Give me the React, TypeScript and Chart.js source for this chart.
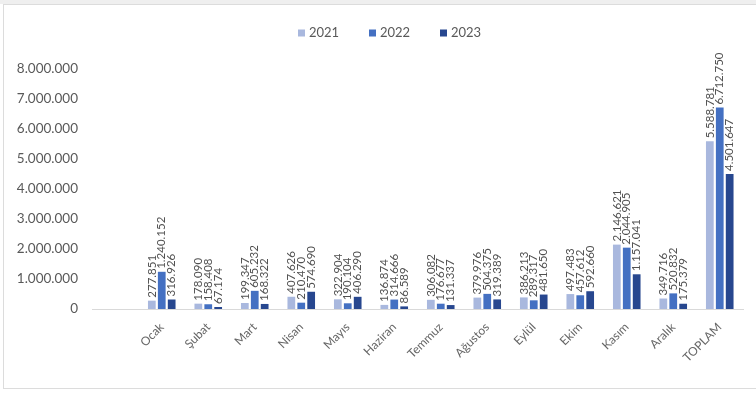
import React, { useEffect, useRef } from "react";
import { Chart, registerables } from "chart.js";

Chart.register(...registerables);

const categories = ["", "Ocak", "Şubat", "Mart", "Nisan", "Mayıs", "Haziran", "Temmuz", "Ağustos", "Eylül", "Ekim", "Kasım", "Aralık", "TOPLAM"];
const seriesNames = ["2021", "2022", "2023"];
const values2021 = [null, 277851, 178090, 199347, 407626, 322904, 136874, 306082, 379976, 386213, 497483, 2146621, 349716, 5588781];
const values2022 = [null, 1240152, 158408, 605232, 210470, 190104, 314666, 176677, 504375, 289317, 457612, 2044905, 520832, 6712750];
const values2023 = [null, 316926, 67174, 168322, 574690, 406290, 86589, 131337, 319389, 481650, 592660, 1157041, 175379, 4501647];
const seriesColors = ["#a9b8de", "#4470c2", "#27478f"];
const yMax = 8000000;
const yStep = 1000000;

const FONT = "Lato, 'Open Sans', sans-serif";

function fmt(v: number): string {
  return String(Math.round(v)).replace(/\B(?=(\d{3})+(?!\d))/g, ".");
}

const labelPlugin = {
  id: "barLabels",
  afterDatasetsDraw(chart: any) {
    const ctx = chart.ctx;
    ctx.save();
    ctx.fillStyle = "#505050";
    ctx.font = `11.5px ${FONT}`;
    ctx.textAlign = "left";
    ctx.textBaseline = "middle";
    chart.data.datasets.forEach((ds: any, di: number) => {
      const meta = chart.getDatasetMeta(di);
      meta.data.forEach((el: any, i: number) => {
        const v = ds.data[i];
        if (v == null) return;
        ctx.save();
        ctx.translate(el.x, el.y - 3);
        ctx.rotate(-Math.PI / 2);
        ctx.fillText(fmt(v), 0, 0);
        ctx.restore();
      });
    });
    ctx.restore();
  },
};

const legendPlugin = {
  id: "customLegend",
  afterDraw(chart: any) {
    const ctx = chart.ctx;
    ctx.save();
    ctx.font = `13px ${FONT}`;
    ctx.textBaseline = "middle";
    ctx.textAlign = "left";
    const xs = [298, 369, 440];
    const y = 33;
    seriesNames.forEach((name, i) => {
      ctx.fillStyle = seriesColors[i];
      ctx.fillRect(xs[i], y - 3.5, 7, 7);
      ctx.fillStyle = "#595959";
      ctx.fillText(name, xs[i] + 11, y);
    });
    ctx.restore();
  },
};

export default function App() {
  const ref = useRef<HTMLCanvasElement | null>(null);
  useEffect(() => {
    if (!ref.current) return;
    const chart = new Chart(ref.current, {
      type: "bar",
      data: {
        labels: categories,
        datasets: [
          { label: seriesNames[0], data: values2021, backgroundColor: seriesColors[0] },
          { label: seriesNames[1], data: values2022, backgroundColor: seriesColors[1] },
          { label: seriesNames[2], data: values2023, backgroundColor: seriesColors[2] },
        ],
      },
      options: {
        animation: false,
        responsive: false,
        maintainAspectRatio: false,
        layout: { padding: { left: 0, right: 13, top: 69, bottom: 0 } },
        datasets: { bar: { categoryPercentage: 0.64, barPercentage: 0.78 } },
        plugins: { legend: { display: false }, tooltip: { enabled: false } },
        scales: {
          x: {
            grid: { display: false },
            border: { display: true, color: "#d9d9d9" },
            ticks: {
              color: "#666666",
              font: { family: FONT, size: 12 },
              minRotation: 45,
              maxRotation: 45,
              autoSkip: false,
            },
            afterFit(scale: any) { scale.height = 86; },
          },
          y: {
            min: 0,
            max: yMax,
            grid: { display: false },
            border: { display: false },
            ticks: {
              stepSize: yStep,
              color: "#595959",
              font: { family: FONT, size: 13.5 },
              padding: 6,
              callback: (v: any) => fmt(Number(v)),
            },
            afterFit(scale: any) { scale.width = 92; },
          },
        },
      },
      plugins: [labelPlugin, legendPlugin],
    });
    return () => chart.destroy();
  }, []);
  return (
    <div style={{ position: "fixed", left: 0, top: 0, width: 756, height: 395, background: "#fff" }}>
      <div style={{ position: "absolute", left: 0, top: 0, width: 756, height: 4, background: "#efefef" }} />
      <div style={{ position: "absolute", left: 3, top: 4, width: 760, height: 385, border: "1px solid #dcdcdc", boxSizing: "border-box" }} />
      <canvas ref={ref} width={756} height={395} style={{ position: "absolute", left: 0, top: 0 }} />
    </div>
  );
}
